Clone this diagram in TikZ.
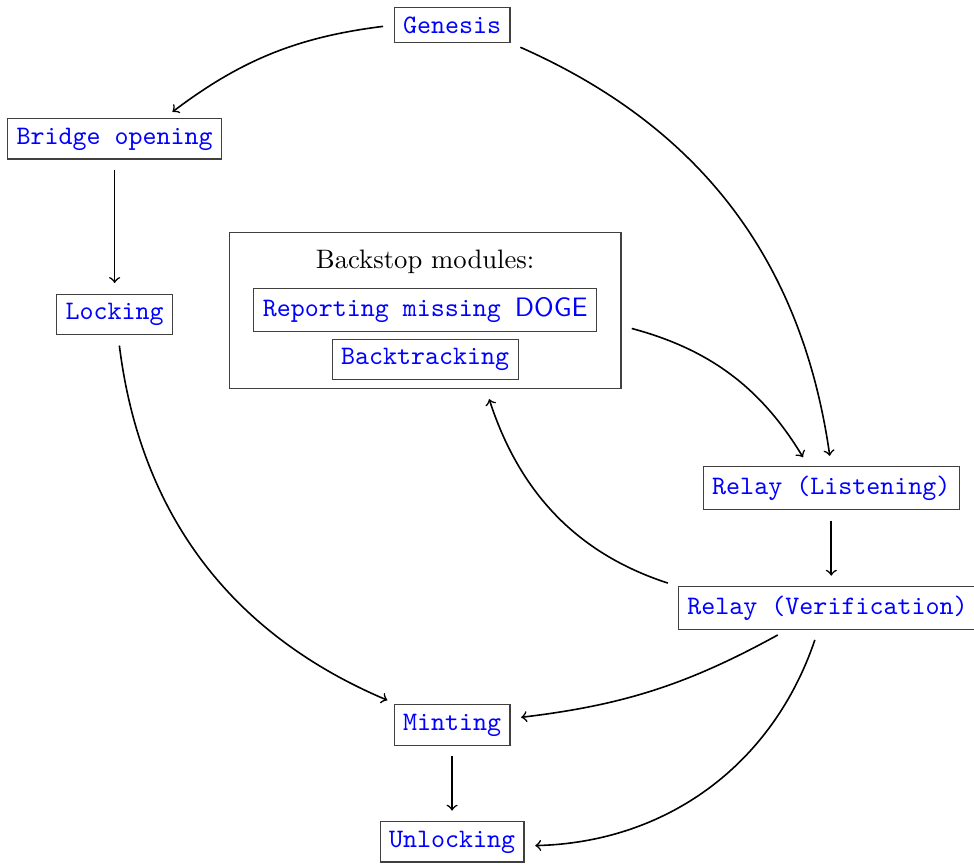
\documentclass[tikz,border=0pt]{standalone}
\usetikzlibrary{fit}

\tikzset{
  stage/.style={draw=black!75, thin, font=\ttfamily, text=blue},
  flow/.style={->, semithick, shorten <=4pt, shorten >=4pt}
}

\begin{document}
\begin{tikzpicture}
\useasboundingbox (0,0) rectangle (12.83,-11.40);

\node[stage] (genesis) at (5.955,-0.33) {Genesis};
\node[stage] (bridge) at (1.51,-1.83) {Bridge opening};
\node[stage] (locking) at (1.51,-4.14) {Locking};

\node (title) at (5.60,-3.45) {Backstop modules:};
\node[stage] (report) at (5.60,-4.08) {Reporting missing \textsf{DOGE}};
\node[stage] (backtrack) at (5.60,-4.74) {Backtracking};
\node[draw=black!75, thin, inner xsep=9pt, inner ysep=3pt,
  fit=(title)(report)(backtrack)] (backstop) {};

\node[stage] (relayL) at (10.95,-6.43) {Relay (Listening)};
\node[stage] (relayV) at (10.90,-8.01) {Relay (Verification)};
\node[stage] (minting) at (5.955,-9.55) {Minting};
\node[stage] (unlocking) at (5.955,-11.09) {Unlocking};

\draw[flow] (genesis.west) to[bend right=15] ([xshift=0.65cm]bridge.north);
\draw[flow] (genesis.south east) to[bend left=29] (relayL.north);
\draw[flow] (bridge) -- (locking);
\draw[flow] (locking) to[bend right=30] (minting);
\draw[flow] ([yshift=-0.2cm]backstop.east) to[bend left=22] ([xshift=-0.3cm]relayL.north);
\draw[flow] (relayL.south) -- (relayL.south |- relayV.north);
\draw[flow] (relayV.north west) to[out=162, in=-72] ([xshift=0.8cm]backstop.south);
\draw[flow] (relayV) to[bend left=11] (minting);
\draw[flow] (relayV) to[bend left=35] (unlocking);
\draw[flow] (minting) -- (unlocking);

\end{tikzpicture}
\end{document}
